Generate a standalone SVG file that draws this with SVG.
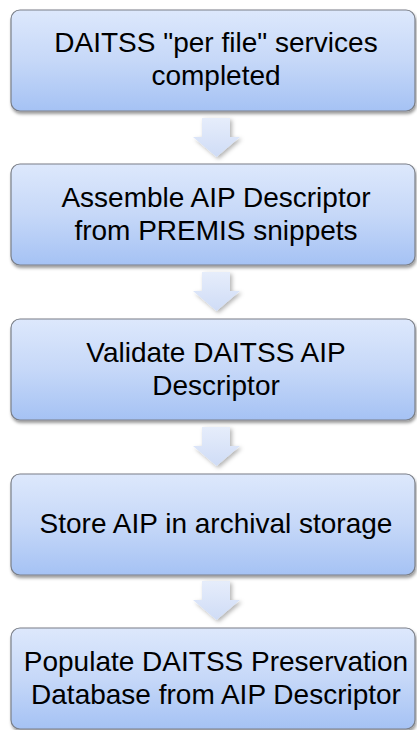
<svg xmlns="http://www.w3.org/2000/svg" width="417" height="730" viewBox="0 0 417 730">
<defs>
<linearGradient id="boxFill" x1="0" y1="0" x2="0" y2="1">
<stop offset="0" stop-color="#dde8fc"/>
<stop offset="0.5" stop-color="#c6d8f8"/>
<stop offset="1" stop-color="#a5c2f4"/>
</linearGradient>
<linearGradient id="arrowFill" x1="0" y1="0" x2="0" y2="1">
<stop offset="0" stop-color="#e6edfb"/>
<stop offset="1" stop-color="#cfdcf6"/>
</linearGradient>
<filter id="shadow" x="-10%" y="-10%" width="120%" height="130%">
<feDropShadow dx="1" dy="2.5" stdDeviation="1.8" flood-color="#000" flood-opacity="0.4"/>
</filter>
<filter id="ashadow" x="-30%" y="-30%" width="160%" height="160%">
<feDropShadow dx="2" dy="2" stdDeviation="2" flood-color="#000" flood-opacity="0.3"/>
</filter>
</defs>
<style>
.box { fill: url(#boxFill); stroke: #7a7f88; stroke-width: 1.2; filter: url(#shadow); }
.arrow { fill: url(#arrowFill); stroke: none; filter: url(#ashadow); }
.lbl { font-family: "Liberation Sans", Arial, sans-serif; font-size: 28px; fill: #000; text-anchor: middle; }
</style>
<g id="connectors">
<path class="arrow" d="M202,118 H230 V137 H240 L216.5,157 L193,137 H202 Z"/>
<path class="arrow" d="M202,272 H230 V291 H240 L216.5,311 L193,291 H202 Z"/>
<path class="arrow" d="M202,427 H230 V446 H240 L216.5,466 L193,446 H202 Z"/>
<path class="arrow" d="M202,581 H230 V600 H240 L216.5,620 L193,600 H202 Z"/>
</g>
<g id="node1">
<rect class="box" x="11" y="10" width="404" height="101" rx="9"/>
<text class="lbl" x="216" y="52">DAITSS "per file" services</text>
<text class="lbl" x="216" y="85">completed</text>
</g>
<g id="node2">
<rect class="box" x="11" y="164" width="404" height="101" rx="9"/>
<text class="lbl" x="216" y="207">Assemble AIP Descriptor</text>
<text class="lbl" x="216" y="240">from PREMIS snippets</text>
</g>
<g id="node3">
<rect class="box" x="11" y="319" width="404" height="101" rx="9"/>
<text class="lbl" x="216" y="362">Validate DAITSS AIP</text>
<text class="lbl" x="216" y="395">Descriptor</text>
</g>
<g id="node4">
<rect class="box" x="11" y="474" width="404" height="101" rx="9"/>
<text class="lbl" x="216" y="533">Store AIP in archival storage</text>
</g>
<g id="node5">
<rect class="box" x="11" y="628" width="404" height="101" rx="9"/>
<text class="lbl" x="216" y="671">Populate DAITSS Preservation</text>
<text class="lbl" x="216" y="704">Database from AIP Descriptor</text>
</g>
</svg>
